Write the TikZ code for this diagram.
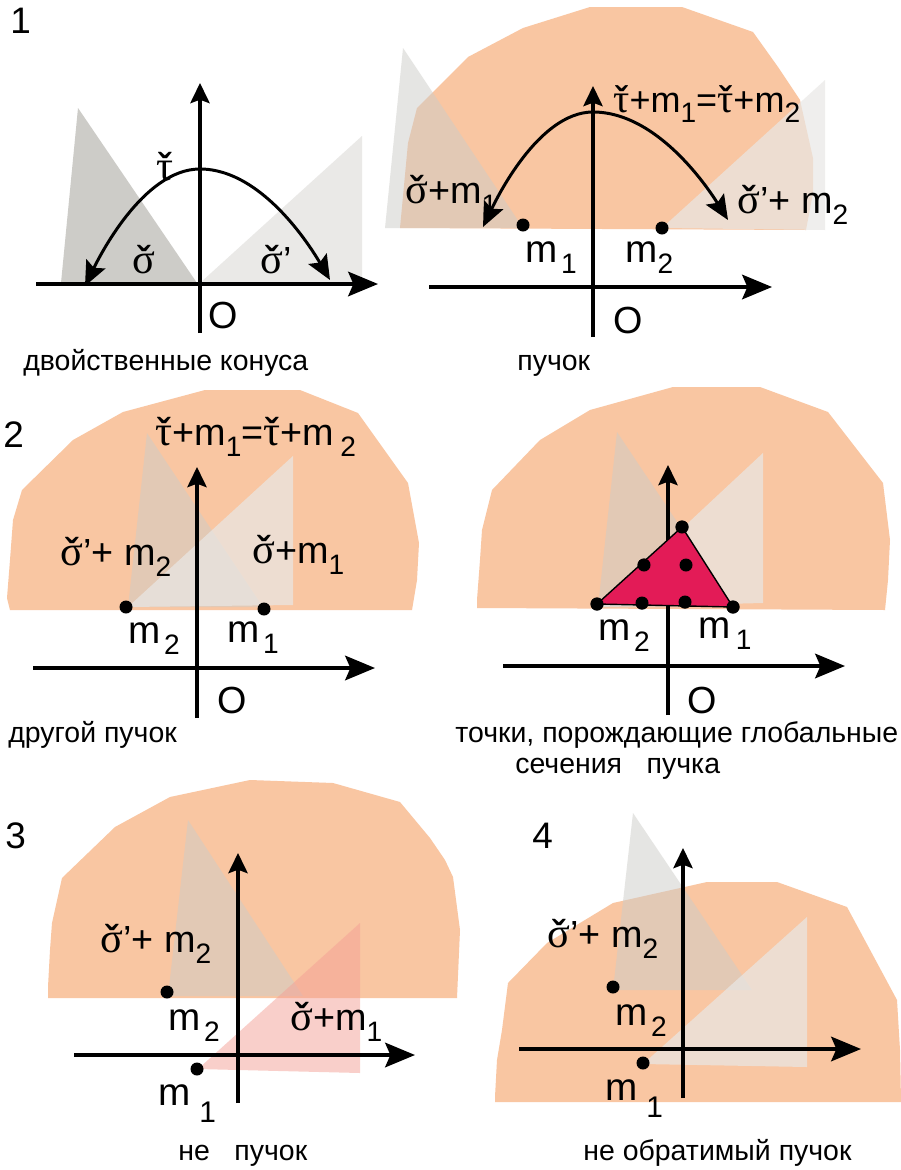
\documentclass[tikz,border=0pt]{standalone}
\usepackage{fontspec}
\setmainfont{Liberation Sans}
\newfontfamily\grk{Liberation Serif}
\usetikzlibrary{arrows.meta}
\definecolor{orng}{RGB}{249,198,162}
\definecolor{grayA}{RGB}{205,204,200}
\definecolor{grayB}{RGB}{234,233,231}
\definecolor{grayT}{RGB}{205,204,200}
\definecolor{whiteT}{RGB}{233,232,230}
\definecolor{pinkT}{RGB}{245,160,150}
\definecolor{redT}{RGB}{227,27,87}
\newcommand{\chk}[1]{\ooalign{#1\cr\hidewidth{\bfseries ˇ}\hidewidth\cr}}
\newcommand{\sigc}{\chk{\grk\scalebox{1.12}{σ}}}
\newcommand{\tauc}{\chk{\grk\scalebox{1.12}{τ}}}
\newcommand{\sbs}[1]{\raisebox{-0.3em}{\fontsize{16pt}{16pt}\selectfont #1}}
\newcommand{\lowone}[1]{\kern5pt\raisebox{-10pt}{\fontsize{17pt}{17pt}\selectfont #1}}
\tikzset{
  haxis/.style={line width=1.8pt,-{Stealth[length=17pt,width=14pt,inset=3pt]}},
  vaxis/.style={line width=1.8pt,-{Stealth[length=11.5pt,width=11pt,inset=2pt]}},
  arcs/.style={line width=1.7pt,{Stealth[length=14pt,width=12pt,inset=2.5pt]}-{Stealth[length=14pt,width=12pt,inset=2.5pt]}},
  blob/.style={fill=orng},
  tleft/.style={fill=grayT,fill opacity=0.5},
  tright/.style={fill=whiteT,fill opacity=0.7},
  dot/.style={circle,fill=black,inner sep=0pt,minimum size=7.4pt},
  lbl/.style={inner sep=0pt,anchor=base west,font=\fontsize{21.5pt}{21.5pt}\selectfont},
  mlbl/.style={inner sep=0pt,anchor=base west,font=\fontsize{22pt}{22pt}\selectfont},
  olbl/.style={inner sep=0pt,anchor=base west,font=\fontsize{21.5pt}{21.5pt}\selectfont},
  num/.style={inner sep=0pt,anchor=base west,font=\fontsize{21pt}{21pt}\selectfont},
  captxt/.style={inner sep=0pt,anchor=base west,font=\fontsize{16.2pt}{16.2pt}\selectfont},
}
\begin{document}
\begin{tikzpicture}[x=0.02cm,y=-0.02cm]
\useasboundingbox (0,0) rectangle (901,1170);
\fill[white] (0,0) rectangle (901,1170);

% ================= Panel 1 =================
\fill[grayA] (78,108) -- (61,283) -- (197,283) -- cycle;
\fill[grayB] (200,283) -- (362,136) -- (362,283) -- cycle;
\coordinate (p1l) at (36,284);
\coordinate (p1r) at (378,284);
\coordinate (p1b) at (200,333);
\coordinate (p1t) at (200,83);
\coordinate (p1al) at (85,286);
\coordinate (p1ab) at (200,169);
\coordinate (p1ar) at (330,280);
\draw[haxis] (p1l) -- (p1r);
\draw[vaxis] (p1b) -- (p1t);
\draw[arcs] (p1al) parabola bend (p1ab) (p1ar);
\node[num] (n1) at (10,33) {1};
\node[lbl,anchor=base] (tau1) at (165,180) {\tauc};
\node[lbl,anchor=base] (s1) at (144,273) {\sigc};
\node[lbl] (s1p) at (260,273) {\sigc’};
\node[olbl] (o1) at (208,328) {O};
\node[captxt] (c1) at (23,370) {двойственные конуса};

% ================= Panel 1b =================
\fill[blob] (400,228) -- (402,207) -- (408,143) -- (417,108) -- (468,57) -- (523,28) -- (590,7) -- (682,7) -- (753,32) -- (778,67) -- (800,100) -- (813,158) -- (813,193) -- (806,230) -- cycle;
\fill[tleft] (403,48) -- (385,228) -- (523,228) -- cycle;
\fill[tright] (662,228) -- (825,80) -- (825,230) -- cycle;
\coordinate (p2l) at (429,287);
\coordinate (p2r) at (772,287);
\coordinate (p2b) at (593,337);
\coordinate (p2t) at (593,86);
\coordinate (p2al) at (483,227);
\coordinate (p2ab) at (593,112);
\coordinate (p2ar) at (728,220);
\draw[haxis] (p2l) -- (p2r);
\draw[vaxis] (p2b) -- (p2t);
\draw[arcs] (p2al) parabola bend (p2ab) (p2ar);
\node[dot] (q1m1) at (523,225) {};
\node[dot] (q1m2) at (662,228) {};
\node[lbl,font=\fontsize{20.5pt}{20.5pt}\selectfont] (eq1) at (613,112) {\tauc+m\sbs{1}=\tauc+m\sbs{2}};
\node[lbl] (q1s) at (405,203) {\sigc+m\sbs{1}};
\node[lbl] (q1sp) at (737,213) {\sigc’+ m\sbs{2}};
\node[mlbl] (q1l1) at (525,262) {m\kern2pt\sbs{1}};
\node[mlbl] (q1l2) at (625,262) {m\sbs{2}};
\node[olbl] (o2) at (613,333) {O};
\node[captxt] (c2) at (517,370) {пучок};

% ================= Panel 2 =================
\fill[blob] (10,610) -- (7,598) -- (10,560) -- (13,520) -- (22,490) -- (73,440) -- (123,412) -- (205,390) -- (300,390) -- (358,413) -- (408,483) -- (419,543) -- (417,580) -- (412,610) -- cycle;
\fill[tleft] (147,433) -- (128,607) -- (263,607) -- cycle;
\fill[tright] (128,607) -- (293,456) -- (293,605) -- cycle;
\coordinate (p3l) at (33,668);
\coordinate (p3r) at (375,668);
\coordinate (p3b) at (197,718);
\coordinate (p3t) at (197,467);
\draw[haxis] (p3l) -- (p3r);
\draw[vaxis] (p3b) -- (p3t);
\node[dot] (q2m2) at (126,607) {};
\node[dot] (q2m1) at (264,609) {};
\node[num] (n2) at (3,447) {2};
\node[lbl] (eq2) at (155,445) {\tauc+m\sbs{1}=\tauc+m\,\sbs{2}};
\node[lbl] (q2sp) at (60,565) {\sigc’+ m\sbs{2}};
\node[lbl] (q2s) at (252,563) {\sigc+m\sbs{1}};
\node[mlbl] (q2l2) at (128,643) {m\kern2pt\sbs{2}};
\node[mlbl] (q2l1) at (227,642) {m\kern2pt\sbs{1}};
\node[olbl] (o3) at (217,713) {O};
\node[captxt] (c3) at (8,742) {другой пучок};

% ================= Panel 2b =================
\fill[blob] (477,608) -- (477,600) -- (480,560) -- (482,530) -- (492,490) -- (540,440) -- (590,410) -- (673,387) -- (760,387) -- (828,412) -- (883,483) -- (890,540) -- (888,580) -- (885,610) -- cycle;
\fill[tleft] (617,432) -- (598,607) -- (734,607) -- cycle;
\fill[tright] (598,607) -- (763,453) -- (763,603) -- cycle;
\coordinate (p4l) at (503,666);
\coordinate (p4r) at (845,666);
\coordinate (p4b) at (668,715);
\coordinate (p4t) at (668,465);
\draw[haxis] (p4l) -- (p4r);
\draw[vaxis] (p4b) -- (p4t);
\node[dot] (r1) at (597,604) {};
\node[dot] (r2) at (642,603) {};
\node[dot] (r3) at (685,602) {};
\node[dot] (r4) at (733,607) {};
\node[dot] (r5) at (644,565) {};
\node[dot] (r6) at (686,565) {};
\node[dot] (r7) at (682,527) {};
\filldraw[fill=redT,draw=black,line width=0.8pt] (r1.center) -- (r7.center) -- (r4.center) -- cycle;
\foreach \d in {r1,r2,r3,r4,r5,r6,r7} \fill (\d) circle[radius=3.7pt];
\node[mlbl] (q3l2) at (598,640) {m\kern2pt\sbs{2}};
\node[mlbl] (q3l1) at (698,638) {m\kern3pt\sbs{1}};
\node[olbl] (o4) at (687,713) {O};
\node[captxt] (c4) at (455,742) {точки, порождающие глобальные};
\node[captxt] (c4b) at (515,773) {сечения\hspace*{14pt}пучка};

% ================= Panel 3 =================
\fill[blob] (48,998) -- (48,987) -- (50,950) -- (52,923) -- (62,878) -- (115,827) -- (170,797) -- (250,780) -- (333,783) -- (400,802) -- (430,838) -- (445,860) -- (453,877) -- (460,930) -- (457,998) -- cycle;
\fill[tleft] (188,820) -- (168,996) -- (303,996) -- cycle;
\fill[pinkT,fill opacity=0.5] (198,1069) -- (360,923) -- (360,1073) -- cycle;
\coordinate (p5l) at (74,1055);
\coordinate (p5r) at (415,1055);
\coordinate (p5b) at (238,1103);
\coordinate (p5t) at (238,853);
\draw[haxis] (p5l) -- (p5r);
\draw[vaxis] (p5b) -- (p5t);
\node[dot] (q4m2) at (167,992) {};
\node[dot] (q4m1) at (197,1069) {};
\node[num] (n3) at (5,848) {3};
\node[lbl] (q4sp) at (100,952) {\sigc’+ m\sbs{2}};
\node[mlbl] (q4l2) at (168,1030) {m\kern2pt\sbs{2}};
\node[lbl] (q4s) at (290,1030) {\sigc+m\sbs{1}};
\node[mlbl] (q4l1) at (158,1105) {m\lowone{1}};
\node[captxt] (c5) at (178,1160) {не\hspace*{14pt}пучок};

% ================= Panel 4 =================
\fill[blob] (495,1102) -- (495,1097) -- (497,1060) -- (502,1030) -- (508,983) -- (547,943) -- (613,903) -- (707,882) -- (777,882) -- (847,907) -- (897,1000) -- (900,1050) -- (901,1102) -- cycle;
\fill[tleft] (633,813) -- (613,990) -- (752,990) -- cycle;
\fill[tright] (643,1064) -- (807,917) -- (807,1067) -- cycle;
\coordinate (p6l) at (519,1049);
\coordinate (p6r) at (861,1049);
\coordinate (p6b) at (683,1098);
\coordinate (p6t) at (683,848);
\draw[haxis] (p6l) -- (p6r);
\draw[vaxis] (p6b) -- (p6t);
\node[dot] (q5m2) at (613,987) {};
\node[dot] (q5m1) at (643,1063) {};
\node[num] (n4) at (532,848) {4};
\node[lbl] (q5sp) at (547,947) {\sigc’+ m\sbs{2}};
\node[mlbl] (q5l2) at (615,1025) {m\kern2pt\sbs{2}};
\node[mlbl] (q5l1) at (605,1100) {m\lowone{1}};
\node[captxt] (c6) at (583,1160) {не обратимый пучок};
\end{tikzpicture}
\end{document}
